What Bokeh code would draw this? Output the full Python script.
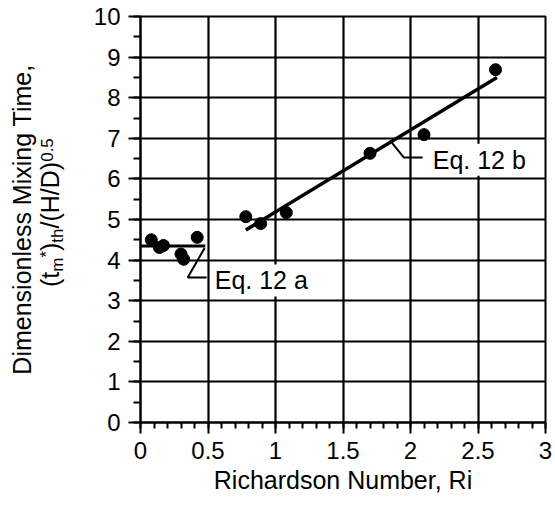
from math import pi
from bokeh.plotting import figure
from bokeh.layouts import row
from bokeh.models import Range1d, FixedTicker, Label
from bokeh.embed import file_html
from bokeh.resources import INLINE

# ---- data ----
ri = [0.08, 0.14, 0.17, 0.30, 0.32, 0.42, 0.78, 0.89, 1.08, 1.70, 2.10, 2.63]
tm = [4.50, 4.31, 4.36, 4.15, 4.02, 4.56, 5.07, 4.90, 5.17, 6.63, 7.09, 8.69]
eq12a_ri = [0.0, 0.48]
eq12a_tm = [4.35, 4.35]
eq12b_ri = [0.78, 2.64]
eq12b_tm = [4.74, 8.50]
x_ticks = [0, 0.5, 1, 1.5, 2, 2.5, 3]
x_tick_labels = ["0", "0.5", "1", "1.5", "2", "2.5", "3"]
y_ticks = [0, 1, 2, 3, 4, 5, 6, 7, 8, 9, 10]
y_tick_labels = ["0", "1", "2", "3", "4", "5", "6", "7", "8", "9", "10"]
x_label = "Richardson Number, Ri"
y_label_1 = "Dimensionless Mixing Time,"
eq_a_text = "Eq. 12 a"
eq_b_text = "Eq. 12 b"

FONT = "Liberation Sans"
TOTAL_H = 505
TITLE_W = 85          # width of the strip that carries the y-axis title
BORDER_TOP, BORDER_BOTTOM = 16, 83
PX_Y = (TOTAL_H - BORDER_TOP - BORDER_BOTTOM) / 10.0

# ---------------- main chart ----------------
p = figure(width=555 - TITLE_W, height=TOTAL_H, x_range=Range1d(0, 3), y_range=Range1d(0, 10),
           output_backend="svg", toolbar_location=None,
           min_border_left=140 - TITLE_W, min_border_right=10,
           min_border_top=BORDER_TOP, min_border_bottom=BORDER_BOTTOM)
p.background_fill_color = "white"
p.border_fill_color = "white"
p.outline_line_color = "black"
p.outline_line_width = 2

x_minor = [i / 10 for i in range(31)]
y_minor = [i / 2 for i in range(21)]
p.xaxis.ticker = FixedTicker(ticks=x_ticks, minor_ticks=x_minor)
p.yaxis.ticker = FixedTicker(ticks=y_ticks, minor_ticks=y_minor)
p.xaxis.major_label_overrides = {t: l for t, l in zip(x_ticks, x_tick_labels)}
p.yaxis.major_label_overrides = {t: l for t, l in zip(y_ticks, y_tick_labels)}

for ax in (p.xaxis[0], p.yaxis[0]):
    ax.axis_line_color = "black"
    ax.axis_line_width = 2
    ax.major_tick_line_color = "black"
    ax.major_tick_line_width = 2
    ax.minor_tick_line_color = "black"
    ax.minor_tick_line_width = 2
    ax.major_tick_in = 0
    ax.minor_tick_in = 0
    ax.major_label_text_font = FONT
    ax.major_label_text_font_size = "24px"
    ax.major_label_text_color = "black"

p.xaxis.major_tick_out = 11
p.xaxis.minor_tick_out = 6
p.xaxis.major_label_standoff = 8
p.yaxis.major_tick_out = 12
p.yaxis.minor_tick_out = 7
p.yaxis.major_label_standoff = 8

p.xaxis.axis_label = x_label
p.xaxis.axis_label_text_font = FONT
p.xaxis.axis_label_text_font_size = "25px"
p.xaxis.axis_label_text_font_style = "normal"
p.xaxis.axis_label_text_color = "black"
p.xaxis.axis_label_standoff = 4

p.xgrid.ticker = FixedTicker(ticks=x_ticks)
p.ygrid.ticker = FixedTicker(ticks=y_ticks)
p.grid.grid_line_color = "black"
p.grid.grid_line_width = 2.2
p.grid.grid_line_alpha = 1.0

# fitted lines
p.line(eq12a_ri, eq12a_tm, line_color="black", line_width=3)
p.line(eq12b_ri, eq12b_tm, line_color="black", line_width=3.5)

# leader lines
p.line([0.475, 0.35, 0.49], [4.30, 3.57, 3.57], line_color="black", line_width=2)
p.line([1.86, 1.95, 2.09], [6.90, 6.53, 6.53], line_color="black", line_width=2)

# data points
p.scatter(ri, tm, size=12, marker="circle", fill_color="black", line_color="black")

# equation labels
for txt, xx, yy in ((eq_a_text, 0.535, 3.50), (eq_b_text, 2.15, 6.47)):
    p.add_layout(Label(x=xx, y=yy, text=txt, text_font=FONT, text_font_size="25px",
                       text_color="black", text_align="left", text_baseline="middle",
                       background_fill_color="white", padding=2))

# ---------------- y-axis title strip: same vertical frame as the chart ----------------
t = figure(width=TITLE_W, height=TOTAL_H, x_range=Range1d(0, TITLE_W), y_range=Range1d(0, 10),
           output_backend="svg", toolbar_location=None, x_axis_location=None, y_axis_location=None,
           min_border_left=0, min_border_right=0,
           min_border_top=BORDER_TOP, min_border_bottom=BORDER_BOTTOM)
t.outline_line_color = None
t.grid.visible = False
t.background_fill_color = "white"
t.border_fill_color = "white"


def mid(baseline_px, fs):
    """x of the em-box middle for rotated text whose baseline sits at baseline_px"""
    return baseline_px - fs * (0.905 - 0.212) / 2


t.add_layout(Label(x=mid(30, 25), y=5.0, text=y_label_1,
                   angle=pi / 2, text_align="center", text_baseline="middle",
                   text_font=FONT, text_font_size="25px", text_color="black"))

main_fs, small_fs = 25, 17
pieces = [("(t", main_fs, 0), ("m", small_fs, 5), ("*", small_fs, -6), (")", main_fs, 0),
          ("th", small_fs, 5), ("/(H/D)", main_fs, 0), ("0.5", small_fs, -6)]
adv = {"(": .333, ")": .333, "t": .278, "m": .833, "*": .389, "h": .556, "/": .278,
       "H": .722, "D": .722, "0": .556, ".": .278, "5": .556}
widths = [sum(adv[c] for c in s) * fs for s, fs, _ in pieces]
total = sum(widths)
pos = 5.17 - total / 2 / PX_Y
base_px = 58
for (s, fs, dx), w in zip(pieces, widths):
    t.add_layout(Label(x=mid(base_px + dx, fs), y=pos, text=s,
                       angle=pi / 2, text_align="left", text_baseline="middle",
                       text_font=FONT, text_font_size=f"{fs}px", text_color="black"))
    pos += w / PX_Y

layout = row(t, p, spacing=0)
open("out.html", "w").write(file_html(layout, INLINE))
